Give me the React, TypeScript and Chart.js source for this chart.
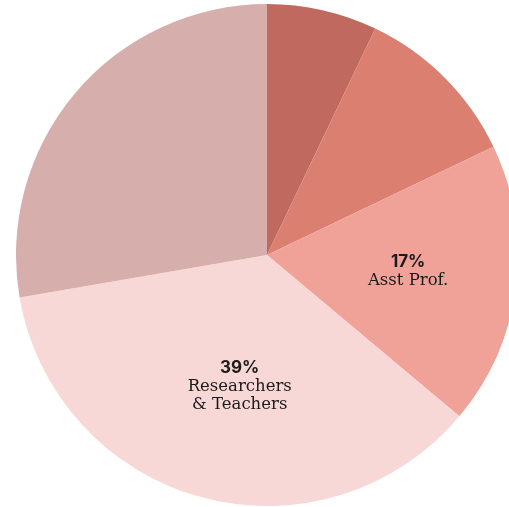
import React, { useEffect, useRef } from "react";
import { Chart, registerables } from "chart.js";

Chart.register(...registerables);

const categories = ["Full Prof.", "Assoc Prof.", "Asst Prof.", "Researchers & Teachers", "Other"];
const shares = [7.1, 10.8, 18.2, 36.2, 27.7];
const sliceColors = ["#C0695F", "#DB7F71", "#F0A298", "#F7D8D6", "#D6AEAC"];
const labelPercents = ["", "", "17%", "39%", ""];
const labelLines: string[][] = [[], [], ["Asst Prof."], ["Researchers", "& Teachers"], []];
// label anchor: [fraction of slice angle, fraction of radius]
const labelAnchors: number[][] = [[0.5, 0.6], [0.5, 0.6], [0.49, 0.566], [0.474, 0.534], [0.5, 0.6]];

const LINE_H = 18.4;

const sliceLabelPlugin = {
  id: "sliceLabels",
  afterDatasetsDraw(chart: any) {
    const ctx = chart.ctx;
    const meta = chart.getDatasetMeta(0);
    meta.data.forEach((arc: any, i: number) => {
      if (!labelPercents[i]) return;
      const { x, y, startAngle, endAngle, outerRadius } = arc.getProps(
        ["x", "y", "startAngle", "endAngle", "outerRadius"],
        true
      );
      const [af, rf] = labelAnchors[i];
      const ang = startAngle + (endAngle - startAngle) * af;
      const r = outerRadius * rf;
      const cx = x + Math.cos(ang) * r;
      const cy = y + Math.sin(ang) * r;
      const n = 1 + labelLines[i].length;
      const top = cy - ((n - 1) * LINE_H) / 2;
      ctx.save();
      ctx.textAlign = "center";
      ctx.textBaseline = "middle";
      ctx.fillStyle = "#1a1a1a";
      ctx.font = "bold 17px Inter";
      ctx.fillText(labelPercents[i], cx, top);
      ctx.font = "16.5px 'DejaVu Serif'";
      labelLines[i].forEach((line, k) => {
        ctx.fillText(line, cx, top + LINE_H * (k + 1));
      });
      ctx.restore();
    });
  },
};

export default function App() {
  const ref = useRef<HTMLCanvasElement>(null);
  useEffect(() => {
    if (!ref.current) return;
    const chart = new Chart(ref.current, {
      type: "pie",
      data: {
        labels: categories,
        datasets: [
          {
            data: shares,
            backgroundColor: sliceColors,
            borderWidth: 0,
          },
        ],
      },
      options: {
        responsive: false,
        animation: false,
        layout: { padding: 0 },
        plugins: {
          legend: { display: false },
          tooltip: { enabled: false },
        },
      },
      plugins: [sliceLabelPlugin],
    });
    return () => chart.destroy();
  }, []);
  return (
    <div
      style={{
        position: "fixed",
        left: 0,
        top: 0,
        width: 509,
        height: 507,
        overflow: "hidden",
        background: "#fff",
      }}
    >
      <canvas
        ref={ref}
        width={502}
        height={502}
        style={{ position: "absolute", left: 16, top: 4, width: 502, height: 502 }}
      />
    </div>
  );
}
